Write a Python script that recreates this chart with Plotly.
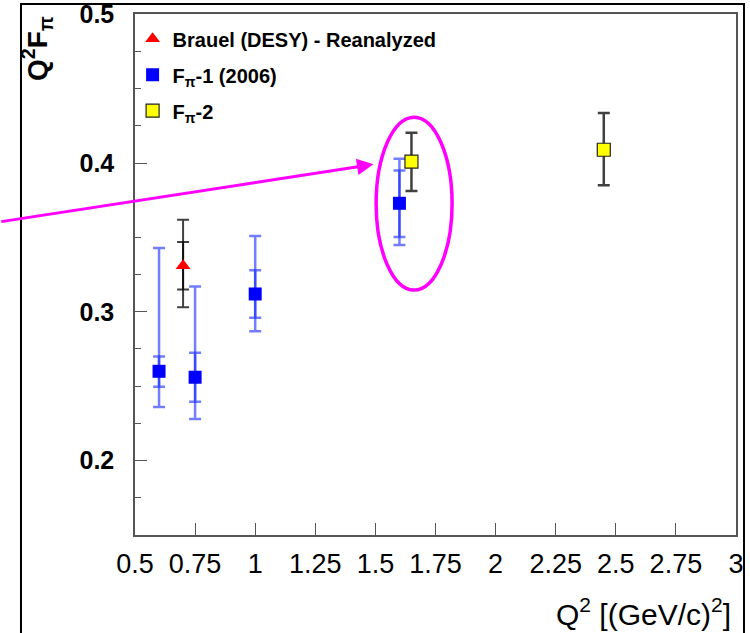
import plotly.graph_objects as go

# ---------------- data ----------------
# Brauel (DESY) - Reanalyzed
br_x = [0.70]
br_y = [0.331]
br_tot_hi = [0.362]
br_tot_lo = [0.303]
br_stat_hi = [0.347]
br_stat_lo = [0.315]

# F_pi-1 (2006)
f1_x = [0.60, 0.75, 1.00, 1.60]
f1_y = [0.260, 0.256, 0.312, 0.373]
f1_tot_hi = [0.343, 0.317, 0.351, 0.403]
f1_tot_lo = [0.236, 0.228, 0.287, 0.345]
f1_stat_hi = [0.270, 0.2725, 0.328, 0.395]
f1_stat_lo = [0.2496, 0.2395, 0.296, 0.3504]

# F_pi-2
f2_x = [1.65, 2.45]
f2_y = [0.401, 0.409]
f2_hi = [0.4205, 0.4337]
f2_lo = [0.3813, 0.3851]

x_ticks = [0.5, 0.75, 1, 1.25, 1.5, 1.75, 2, 2.25, 2.5, 2.75, 3]
x_tick_text = ["0.5", "0.75", "1", "1.25", "1.5", "1.75", "2", "2.25", "2.5", "2.75", "3"]
y_ticks = [0.2, 0.3, 0.4, 0.5]
y_tick_text = ["0.2", "0.3", "0.4", "0.5"]

# highlight ellipse (data coordinates) and arrow
ell_x = [1.503, 1.819]
ell_y = [0.3146, 0.4309]
arrow_tail = (-0.0625, 0.3605)
arrow_tip = (1.492, 0.3992)


def up(hi, y):
    return [h - v for h, v in zip(hi, y)]


def dn(lo, y):
    return [v - l for l, v in zip(lo, y)]


FONT = "Liberation Sans, Arial, sans-serif"
BLUE_ERR = "rgba(20,40,255,0.6)"
BLACK_ERR = "rgba(0,0,0,0.75)"

fig = go.Figure()

# F_pi-1 total errors
fig.add_trace(go.Scatter(
    x=f1_x, y=f1_y, mode="markers", marker=dict(opacity=0, size=1),
    error_y=dict(type="data", symmetric=False, array=up(f1_tot_hi, f1_y),
                 arrayminus=dn(f1_tot_lo, f1_y), color=BLUE_ERR, thickness=2.5, width=6),
    showlegend=False, hoverinfo="skip"))
# F_pi-1 stat errors + markers
fig.add_trace(go.Scatter(
    x=f1_x, y=f1_y, mode="markers", name="F<sub>π</sub>-1 (2006)",
    marker=dict(symbol="square", size=13, color="#0000ff", line=dict(width=0)),
    error_y=dict(type="data", symmetric=False, array=up(f1_stat_hi, f1_y),
                 arrayminus=dn(f1_stat_lo, f1_y), color=BLUE_ERR, thickness=2.5, width=6),
    legendgroup="b", legendrank=2))

# Brauel total errors
fig.add_trace(go.Scatter(
    x=br_x, y=br_y, mode="markers", marker=dict(opacity=0, size=1),
    error_y=dict(type="data", symmetric=False, array=up(br_tot_hi, br_y),
                 arrayminus=dn(br_tot_lo, br_y), color=BLACK_ERR, thickness=2, width=6),
    showlegend=False, hoverinfo="skip"))
fig.add_trace(go.Scatter(
    x=br_x, y=br_y, mode="markers", name="Brauel (DESY) - Reanalyzed",
    marker=dict(symbol="triangle-up", size=13, color="#ff0000", line=dict(width=0)),
    error_y=dict(type="data", symmetric=False, array=up(br_stat_hi, br_y),
                 arrayminus=dn(br_stat_lo, br_y), color=BLACK_ERR, thickness=2, width=6),
    legendgroup="a", legendrank=1))

# F_pi-2
fig.add_trace(go.Scatter(
    x=f2_x, y=f2_y, mode="markers", name="F<sub>π</sub>-2",
    marker=dict(symbol="square", size=13, color="#ffff00", line=dict(width=1.2, color="#222")),
    error_y=dict(type="data", symmetric=False, array=up(f2_hi, f2_y),
                 arrayminus=dn(f2_lo, f2_y), color=BLACK_ERR, thickness=2.5, width=6),
    legendgroup="c", legendrank=3))

fig.update_layout(
    width=750, height=633,
    margin=dict(l=135, r=14, t=14, b=98, autoexpand=False),
    paper_bgcolor="white", plot_bgcolor="white",
    font=dict(family=FONT, color="black"),
    showlegend=True,
    legend=dict(x=-0.004, y=0.99, xanchor="left", yanchor="top",
                bgcolor="rgba(0,0,0,0)", font=dict(size=20, weight="bold", family=FONT),
                tracegroupgap=7),
    xaxis=dict(range=[0.5, 3.0], tickvals=x_ticks, ticktext=x_tick_text,
               ticks="inside", ticklen=12, tickcolor="#555", tickwidth=1,
               showline=True, linecolor="#555", linewidth=1.5, mirror=True,
               showgrid=False, zeroline=False, automargin=False,
               tickfont=dict(size=27, family=FONT), ticklabelstandoff=4),
    yaxis=dict(range=[0.1499, 0.5003], tickvals=y_ticks, ticktext=y_tick_text,
               ticks="inside", ticklen=12, tickcolor="#555", tickwidth=1,
               minor=dict(dtick=0.025, ticks="inside", ticklen=6, tickcolor="#555", showgrid=False),
               showline=True, linecolor="#555", linewidth=1.5, mirror=True,
               showgrid=False, zeroline=False, automargin=False,
               tickfont=dict(size=25, weight="bold", family=FONT), ticklabelstandoff=14),
)

# outer canvas frame
fig.add_shape(type="rect", xref="paper", yref="paper",
              x0=-0.1897, x1=1.0133, y0=-0.23, y1=1.0192,
              line=dict(color="black", width=2), fillcolor="rgba(0,0,0,0)", layer="below")

# magenta ellipse
fig.add_shape(type="circle", xref="x", yref="y",
              x0=ell_x[0], x1=ell_x[1], y0=ell_y[0], y1=ell_y[1],
              line=dict(color="#ff00ff", width=3.5))

# magenta arrow
fig.add_annotation(x=arrow_tip[0], y=arrow_tip[1], ax=arrow_tail[0], ay=arrow_tail[1],
                   xref="x", yref="y", axref="x", ayref="y", text="",
                   showarrow=True, arrowhead=2, arrowsize=1.1, arrowwidth=3,
                   arrowcolor="#ff00ff", standoff=0)

# axis titles
fig.add_annotation(x=-0.163, y=0.933, xref="paper", yref="paper",
                   text="Q<sup>2</sup>F<sub>π</sub>", textangle=-90, showarrow=False,
                   xanchor="center", yanchor="middle",
                   font=dict(size=28, weight="bold", family=FONT))
fig.add_annotation(x=0.995, y=-0.148, xref="paper", yref="paper",
                   text="Q<sup>2</sup> [(GeV/c)<sup>2</sup>]", showarrow=False,
                   xanchor="right", yanchor="middle",
                   font=dict(size=30, family=FONT))

fig.write_html("out.html")
